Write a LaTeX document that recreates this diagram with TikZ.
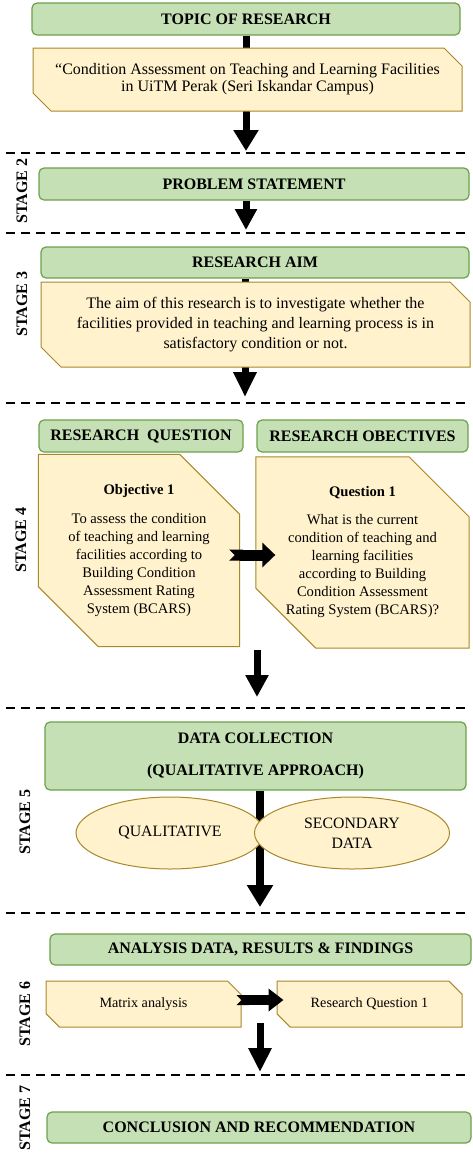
\documentclass[tikz,border=0pt]{standalone}
\usepackage{fontspec}
\setmainfont{Liberation Serif}
\usepackage{tikz}
\usetikzlibrary{arrows.meta,shapes.misc,shapes.geometric,backgrounds}

\definecolor{headfill}{HTML}{C5E0B4}
\definecolor{headline}{HTML}{6E9F4B}
\definecolor{notefill}{HTML}{FFF2CC}
\definecolor{noteline}{HTML}{A8882A}

\tikzset{
  heading/.style={draw=headline, fill=headfill, line width=1.2pt, rounded corners=5pt,
    inner sep=0pt, align=center, font=\fontsize{16}{18}\selectfont\bfseries},
  note/.style={chamfered rectangle, chamfered rectangle corners={north east,south west},
    draw=noteline, fill=notefill, line width=1pt, inner sep=0pt, align=center,
    font=\fontsize{16}{17}\selectfont},
  oval/.style={ellipse, draw=noteline, fill=notefill, line width=1pt, inner sep=0pt,
    align=center, font=\fontsize{15.8}{20}\selectfont},
  stagelabel/.style={rotate=90, font=\fontsize{16}{18}\selectfont\bfseries},
  divider/.style={line width=2pt, dash pattern=on 9pt off 6pt},
  downarrow/.style={line width=7pt, -{Triangle[width=24pt,length=21pt]}},
  sidearrow/.style={line width=11pt, {Triangle Cap[reversed]}-{Triangle[width=24pt,length=13pt]}}
}

\begin{document}
\begin{tikzpicture}[x=1pt,y=-1pt]
    \useasboundingbox (0,0) rectangle (472,1157);

    % stage dividers
    \foreach \y in {153,233,403,708,913,1075}
    \draw[divider] (6,\y) -- (469,\y);

    % stage labels
    \node[stagelabel] (s2) at (22,191) {STAGE 2};
    \node[stagelabel] (s3) at (22,304) {STAGE 3};
    \node[stagelabel] (s4) at (21,540) {STAGE 4};
    \node[stagelabel] (s5) at (25,822) {STAGE 5};
    \node[stagelabel] (s6) at (25,1014) {STAGE 6};
    \node[stagelabel] (s7) at (25,1118) {STAGE 7};

    % stage 1
    \node[heading, minimum width=428pt, minimum height=32pt] (topic) at (246,19) {TOPIC OF RESEARCH};
    \node[note, minimum width=429pt, minimum height=63pt,
          chamfered rectangle xsep=9pt, chamfered rectangle ysep=9pt] (title) at (247.5,79.5)
        {“Condition Assessment on Teaching and Learning Facilities\\in UiTM Perak (Seri Iskandar Campus)};
    \coordinate (end1) at (246,151);

    % stage 2
    \node[heading, minimum width=430pt, minimum height=32pt] (problem) at (254,184) {PROBLEM STATEMENT};
    \coordinate (end2) at (246,230);

    % stage 3
    \node[heading, minimum width=428pt, minimum height=31pt] (aim) at (255,262.5) {RESEARCH AIM};
    \node[note, minimum width=429pt, minimum height=85pt, font=\fontsize{16}{20}\selectfont,
          chamfered rectangle xsep=10pt, chamfered rectangle ysep=10pt] (aimtext) at (255.5,324.5)
        {The aim of this research is to investigate whether the\\facilities provided in teaching and learning process is in\\satisfactory condition or not.};
    \coordinate (end3) at (245,397);

    % stage 4
    \node[heading, minimum width=204pt, minimum height=32pt] (rq) at (141,436) {RESEARCH\ \ QUESTION};
    \node[heading, minimum width=211pt, minimum height=32pt] (ro) at (362.5,436) {RESEARCH OBECTIVES};
    \node[note, minimum width=198pt, minimum height=181pt, font=\fontsize{14.6}{18}\selectfont,
          chamfered rectangle xsep=30pt, chamfered rectangle ysep=30pt] (obj) at (139,550.5)
        {\textbf{Objective 1}\\[11pt]To assess the condition\\of teaching and learning\\facilities according to\\Building Condition\\Assessment Rating\\System (BCARS)};
    \node[note, minimum width=211pt, minimum height=181pt, font=\fontsize{14.6}{18}\selectfont,
          chamfered rectangle xsep=30pt, chamfered rectangle ysep=30pt] (ques) at (362.5,552.5)
        {\textbf{Question 1}\\[10pt]What is the current\\condition of teaching and\\learning facilities\\according to Building\\Condition Assessment\\Rating System (BCARS)?};
    \coordinate (from4) at (257,650);
    \coordinate (end4) at (257,697);

    % stage 5
    \node[heading, minimum width=421pt, minimum height=68pt] (collect) at (255.5,756)
        {DATA COLLECTION\\[14pt](QUALITATIVE APPROACH)};
    \coordinate (end5) at (260,907);
    \node[oval, minimum width=188pt, minimum height=72pt] (qual) at (170,833) {QUALITATIVE};
    \node[oval, minimum width=195pt, minimum height=72pt] (second) at (352,833) {SECONDARY\\DATA};

    % stage 6
    \node[heading, minimum width=421pt, minimum height=31pt] (analysis) at (260.5,949.5)
        {ANALYSIS DATA, RESULTS \& FINDINGS};
    \node[note, minimum width=195pt, minimum height=46pt, font=\fontsize{14.2}{16}\selectfont,
          chamfered rectangle xsep=7pt, chamfered rectangle ysep=7pt] (matrix) at (143.5,1004)
        {Matrix analysis};
    \node[note, minimum width=185pt, minimum height=46pt, font=\fontsize{14.2}{16}\selectfont,
          chamfered rectangle xsep=7pt, chamfered rectangle ysep=7pt] (rq1) at (369.5,1004)
        {Research Question 1};
    \coordinate (from6) at (260,1023);
    \coordinate (end6) at (260,1072);

    % stage 7
    \node[heading, minimum width=424pt, minimum height=31pt] (conclude) at (259,1127.5)
        {CONCLUSION AND RECOMMENDATION};

    % flow arrows behind the boxes
    \begin{pgfonlayer}{background}
    \draw[downarrow] (topic.south -| end1) -- (end1);
    \draw[downarrow, -{Triangle[width=21pt,length=21pt]}] (problem.south -| end2) -- (end2);
    \draw[downarrow, -{Triangle[width=22pt,length=25pt]}] (aim.south -| end3) -- (end3);
    \draw[downarrow, -{Triangle[width=22pt,length=22pt]}] (from4) -- (end4);
    \draw[downarrow, line width=8pt, -{Triangle[width=25pt,length=22pt]}] (collect.south -| end5) -- (end5);
    \draw[downarrow, -{Triangle[width=22pt,length=24pt]}] (from6) -- (end6);
    \end{pgfonlayer}

    % side arrows over the boxes
    \draw[sidearrow] ([xshift=-11pt,yshift=-4.5pt]obj.east) -- ([xshift=20pt,yshift=-2.5pt]ques.west);
    \draw[sidearrow, line width=10pt, {Triangle Cap[reversed]}-{Triangle[width=22pt,length=15pt]}]
        ([xshift=-5pt,yshift=4pt]matrix.east) -- ([xshift=7pt,yshift=4pt]rq1.west);

\end{tikzpicture}
\end{document}
